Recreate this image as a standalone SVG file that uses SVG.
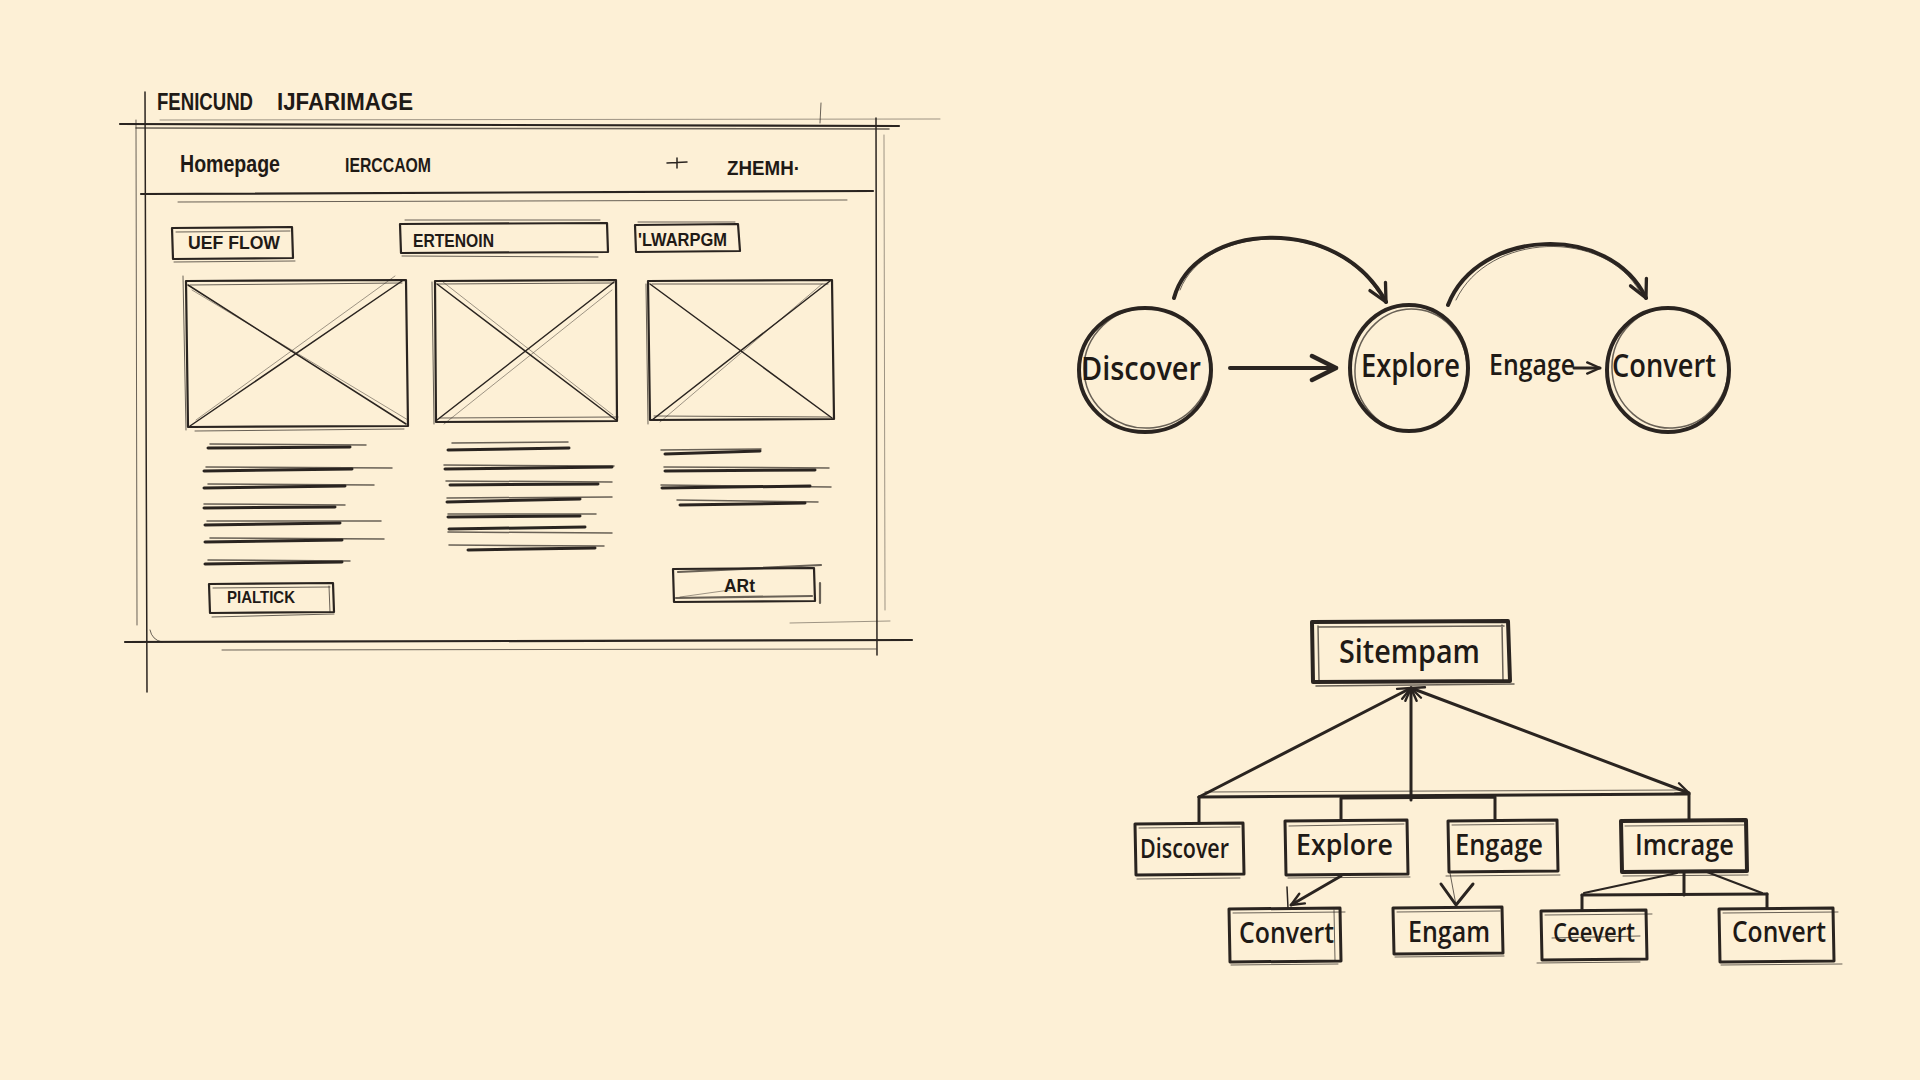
<svg xmlns="http://www.w3.org/2000/svg" width="1920" height="1080" viewBox="0 0 1920 1080">
<defs>
<style>
.ink{fill:none;stroke:#2a2420;stroke-linecap:round;stroke-linejoin:round}
.w1{stroke-width:1}
.w15{stroke-width:1.5}
.w2{stroke-width:2.2}
.w3{stroke-width:3}
.w4{stroke-width:4}
.faint{opacity:.45}
.mid{opacity:.7}
.txt{fill:#1f1a16;font-family:"Liberation Sans","DejaVu Sans",sans-serif;font-weight:bold}
.hand{fill:#1f1a16;font-family:"Open Sans","Liberation Sans",sans-serif;font-weight:600}
</style>
<marker id="arrBig" viewBox="0 0 20 20" refX="18" refY="10" markerWidth="30" markerHeight="30" markerUnits="userSpaceOnUse" orient="auto">
<path d="M2,2 L18,10 L2,18" fill="none" stroke="#2a2420" stroke-width="3" stroke-linecap="round" stroke-linejoin="round"/>
</marker>
<marker id="arrMid" viewBox="0 0 20 20" refX="18" refY="10" markerWidth="22" markerHeight="22" markerUnits="userSpaceOnUse" orient="auto-start-reverse">
<path d="M2,2 L18,10 L2,18" fill="none" stroke="#2a2420" stroke-width="3" stroke-linecap="round" stroke-linejoin="round"/>
</marker>
<marker id="arrSm" viewBox="0 0 20 20" refX="18" refY="10" markerWidth="16" markerHeight="16" markerUnits="userSpaceOnUse" orient="auto-start-reverse">
<path d="M2,3 L18,10 L2,17" fill="none" stroke="#2a2420" stroke-width="3" stroke-linecap="round" stroke-linejoin="round"/>
</marker>
</defs>
<rect width="1920" height="1080" fill="#fdf0d6"/>

<!-- Wireframe sketch -->
<g id="wireframe">
<text class="txt" x="157" y="110" font-size="24" textLength="96" lengthAdjust="spacingAndGlyphs">FENICUND</text>
<text class="txt" x="277" y="110" font-size="24" textLength="136" lengthAdjust="spacingAndGlyphs">IJFARIMAGE</text>
<!-- frame -->
<path class="ink w2" d="M120,124 L899,126"/>
<path class="ink w15 mid" d="M136,128 L889,129"/>
<path class="ink w1 faint" d="M160,120 L940,119"/>
<path class="ink w15" d="M145,92 L147,692"/>
<path class="ink w1 mid" d="M136,120 L137,625"/>
<path class="ink w15" d="M876,118 L877,655"/>
<path class="ink w1 faint" d="M884,135 L885,610"/>
<path class="ink w1 mid" d="M821,103 L820,123"/>
<path class="ink w2" d="M141,194 L873,191"/>
<path class="ink w1 mid" d="M178,202 L847,200"/>
<path class="ink w2" d="M125,642 L912,640"/>
<path class="ink w1 mid" d="M222,650 L876,649"/>
<path class="ink w1 faint" d="M790,623 L890,621"/>
<path class="ink w1 mid" d="M150,630 Q152,640 162,642"/>
<!-- nav -->
<text class="txt" x="180" y="172" font-size="24" textLength="100" lengthAdjust="spacingAndGlyphs">Homepage</text>
<text class="txt" x="345" y="172" font-size="20" textLength="86" lengthAdjust="spacingAndGlyphs">IERCCAOM</text>
<path class="ink w15" d="M667,163 L687,162 M677,158 L677,168"/>
<text class="txt" x="727" y="175" font-size="21" textLength="73" lengthAdjust="spacingAndGlyphs">ZHEMH·</text>
<!-- labels -->
<g id="label-uef">
<path class="ink w2" d="M172,228 L292,227 L293,258 L173,259 Z"/>
<path class="ink w1 mid" d="M176,232 L290,231 M174,262 L295,261"/>
<text class="txt" x="188" y="249" font-size="19" textLength="92" lengthAdjust="spacingAndGlyphs">UEF FLOW</text>
</g>
<g id="label-ertenoin">
<path class="ink w2" d="M400,224 L607,223 L608,252 L401,253 Z"/>
<path class="ink w1 mid" d="M405,220 L600,220 M402,256 L598,257"/>
<text class="txt" x="413" y="247" font-size="18" textLength="81" lengthAdjust="spacingAndGlyphs">ERTENOIN</text>
</g>
<g id="label-lwarpgm">
<path class="ink w2" d="M635,225 L738,224 L740,251 L636,252 Z"/>
<path class="ink w1 mid" d="M638,222 L735,222"/>
<text class="txt" x="638" y="246" font-size="18" textLength="89" lengthAdjust="spacingAndGlyphs">'LWARPGM</text>
</g>
<!-- image placeholders -->
<g id="img1">
<path class="ink w2" d="M186,281 L406,280 L408,426 L188,427 Z"/>
<path class="ink w1 mid" d="M190,285 L402,283 M183,276 L186,430 M195,431 L404,429"/>
<path class="ink w15" d="M188,285 L406,424 M190,426 L402,281"/>
<path class="ink w1 faint" d="M196,420 L395,276 M192,290 L408,420"/>
</g>
<g id="img2">
<path class="ink w2" d="M435,281 L616,280 L617,421 L436,422 Z"/>
<path class="ink w1 mid" d="M438,284 L614,283 M432,282 L434,424 M440,418 L618,417"/>
<path class="ink w15" d="M437,284 L616,420 M437,420 L614,282"/>
<path class="ink w1 faint" d="M443,282 L613,415 M444,424 L612,290"/>
</g>
<g id="img3">
<path class="ink w2" d="M648,281 L832,280 L834,419 L650,420 Z"/>
<path class="ink w1 mid" d="M652,284 L828,284 M646,284 L648,424 M654,416 L830,417"/>
<path class="ink w15" d="M650,284 L832,418 M652,420 L830,281"/>
<path class="ink w1 faint" d="M660,422 L822,284"/>
</g>
<!-- text lines -->
<g id="textlines">
<path class="ink w3" d="M208,448 L350,447 M204,471 L352,469 M204,488 L345,486 M204,508 L335,507 M205,525 L340,523 M205,542 L342,540 M205,564 L342,562"/>
<path class="ink w15 mid" d="M210,444 L366,445 M206,467 L392,468 M208,484 L374,485 M204,504 L345,505 M207,521 L381,521 M210,538 L384,539 M208,560 L350,561"/>
<path class="ink w3" d="M448,450 L569,448 M445,469 L612,467 M450,485 L598,484 M447,502 L580,499 M448,517 L580,516 M449,529 L585,527 M468,550 L595,548"/>
<path class="ink w15 mid" d="M452,443 L568,442 M444,465 L614,466 M446,481 L612,482 M447,498 L612,497 M448,514 L596,514 M448,532 L612,533 M449,545 L604,546"/>
<path class="ink w3" d="M665,454 L760,451 M665,471 L815,470 M662,488 L810,486 M680,505 L805,503"/>
<path class="ink w15 mid" d="M661,450 L761,449 M664,467 L829,468 M661,485 L831,487 M677,500 L818,502"/>
</g>
<!-- buttons -->
<g id="btn-pialtick">
<path class="ink w2" d="M209,584 L333,583 L334,612 L210,613 Z"/>
<path class="ink w1 mid" d="M213,588 L330,587 M212,617 L334,614 M329,586 L330,612"/>
<text class="txt" x="227" y="603" font-size="17" textLength="68" lengthAdjust="spacingAndGlyphs" font-weight="normal">PIALTICK</text>
</g>
<g id="btn-art">
<path class="ink w2" d="M673,569 L814,568 L815,601 L674,602 Z"/>
<path class="ink w2 mid" d="M678,572 L821,565 M676,598 L812,596 M820,583 L820,603"/>
<path class="ink w1 faint" d="M680,597 L730,590"/>
<text class="txt" x="724" y="592" font-size="19" textLength="31" lengthAdjust="spacingAndGlyphs" font-weight="normal">ARt</text>
</g>
</g>

<!-- Flow diagram -->
<g id="flow-connectors">
<path class="ink w4" d="M1230,368 L1336,368" marker-end="url(#arrBig)"/>
<path class="ink w3" d="M1574,368 L1600,368" marker-end="url(#arrSm)"/>
<path class="ink w4" d="M1174,298 C1195,222 1338,212 1386,302" marker-end="url(#arrMid)"/>
<path class="ink w1 mid" d="M1180,290 C1205,225 1330,218 1378,292"/>
<path class="ink w4" d="M1448,305 C1478,228 1610,222 1646,298" marker-end="url(#arrMid)"/>
<path class="ink w1 mid" d="M1456,300 C1488,232 1605,228 1640,292"/>
</g>
<g id="flow-discover">
<ellipse class="ink w4" cx="1145" cy="370" rx="66" ry="62"/>
<ellipse class="ink w15 mid" cx="1147" cy="368" rx="63" ry="60" transform="rotate(-6 1147 368)"/>
<text class="hand" x="1081" y="380" font-size="32" textLength="120" lengthAdjust="spacingAndGlyphs">Discover</text>
</g>
<g id="flow-explore">
<ellipse class="ink w4" cx="1409" cy="368" rx="59" ry="63"/>
<ellipse class="ink w15 mid" cx="1411" cy="370" rx="56" ry="61" transform="rotate(5 1411 370)"/>
<text class="hand" x="1361" y="377" font-size="32" textLength="99" lengthAdjust="spacingAndGlyphs">Explore</text>
</g>
<g id="flow-engage">
<text class="hand" x="1489" y="375" font-size="29" textLength="86" lengthAdjust="spacingAndGlyphs">Engage</text>
</g>
<g id="flow-convert">
<ellipse class="ink w4" cx="1668" cy="370" rx="61" ry="62"/>
<ellipse class="ink w15 mid" cx="1670" cy="368" rx="58" ry="60" transform="rotate(-5 1670 368)"/>
<text class="hand" x="1612" y="377" font-size="32" textLength="104" lengthAdjust="spacingAndGlyphs">Convert</text>
</g>

<!-- Sitemap -->
<g id="sitemap-connectors">
<path class="ink w3" d="M1199,797 L1411,688" marker-end="url(#arrSm)"/>
<path class="ink w3" d="M1411,800 L1411,688" marker-end="url(#arrSm)"/>
<path class="ink w3" d="M1411,688 L1689,793" marker-start="url(#arrSm)" marker-end="url(#arrSm)"/>
<path class="ink w3" d="M1199,797 L1689,794"/>
<path class="ink w1 mid" d="M1205,792 L1680,790"/>
<path class="ink w3" d="M1199,797 L1199,823"/>
<path class="ink w3" d="M1341,820 L1341,798 L1495,797 L1495,820"/>
<path class="ink w3" d="M1689,794 L1689,820"/>
<path class="ink w3" d="M1341,876 L1291,905" marker-end="url(#arrSm)"/>
<path class="ink w15" d="M1287,887 L1288,908"/>
<path class="ink w1 mid" d="M1450,873 L1456,905"/>
<path class="ink w3" d="M1441,884 L1456,905 L1473,884"/>
<path class="ink w3" d="M1684,872 L1684,895"/>
<path class="ink w3" d="M1582,895 L1767,894"/>
<path class="ink w3" d="M1582,895 L1582,910"/>
<path class="ink w3" d="M1767,894 L1767,908"/>
<path class="ink w2" d="M1677,873 L1584,893"/>
<path class="ink w2" d="M1707,872 L1762,893"/>
</g>
<g id="sm-root">
<path class="ink w4" d="M1312,622 L1508,621 L1510,681 L1313,682 Z"/>
<path class="ink w15 mid" d="M1318,627 L1504,626 M1316,686 L1514,684 M1502,625 L1503,680 M1318,626 L1319,680"/>
<text class="hand" x="1339" y="663" font-size="33" textLength="141" lengthAdjust="spacingAndGlyphs">Sitempam</text>
</g>
<g id="sm-discover">
<path class="ink w3" d="M1135,824 L1243,823 L1244,874 L1136,875 Z"/>
<path class="ink w1 mid" d="M1139,828 L1240,827 M1137,879 L1240,878"/>
<text class="hand" x="1140" y="858" font-size="27" textLength="89" lengthAdjust="spacingAndGlyphs">Discover</text>
</g>
<g id="sm-explore">
<path class="ink w3" d="M1285,821 L1407,820 L1408,874 L1286,875 Z"/>
<path class="ink w1 mid" d="M1289,826 L1404,824 M1288,878 L1410,877"/>
<text class="hand" x="1296" y="855" font-size="28" textLength="97" lengthAdjust="spacingAndGlyphs">Explore</text>
</g>
<g id="sm-engage">
<path class="ink w3" d="M1448,821 L1557,820 L1558,871 L1449,872 Z"/>
<path class="ink w1 mid" d="M1452,825 L1554,824 M1446,876 L1560,875"/>
<text class="hand" x="1455" y="855" font-size="28" textLength="88" lengthAdjust="spacingAndGlyphs">Engage</text>
</g>
<g id="sm-imcrage">
<path class="ink w4" d="M1621,821 L1746,820 L1747,871 L1622,872 Z"/>
<path class="ink w1 mid" d="M1625,826 L1744,825 M1623,876 L1748,875"/>
<text class="hand" x="1635" y="855" font-size="28" textLength="99" lengthAdjust="spacingAndGlyphs">Imcrage</text>
</g>
<g id="sm-convert1">
<path class="ink w3" d="M1229,909 L1340,908 L1341,961 L1230,962 Z"/>
<path class="ink w1 mid" d="M1233,913 L1345,912 M1231,965 L1338,964 M1334,910 L1335,960"/>
<text class="hand" x="1239" y="943" font-size="28" textLength="95" lengthAdjust="spacingAndGlyphs">Convert</text>
</g>
<g id="sm-engam">
<path class="ink w3" d="M1393,908 L1502,907 L1503,953 L1394,954 Z"/>
<path class="ink w1 mid" d="M1397,912 L1500,911 M1395,957 L1504,956"/>
<text class="hand" x="1408" y="942" font-size="28" textLength="82" lengthAdjust="spacingAndGlyphs">Engam</text>
</g>
<g id="sm-ceevert">
<path class="ink w3" d="M1541,911 L1646,910 L1647,959 L1542,960 Z"/>
<path class="ink w1 mid" d="M1545,915 L1652,914 M1537,963 L1640,962 M1552,938 L1640,936"/>
<text class="hand" x="1553" y="942" font-size="27" textLength="82" lengthAdjust="spacingAndGlyphs">Ceevert</text>
</g>
<g id="sm-convert2">
<path class="ink w3" d="M1719,909 L1833,908 L1834,961 L1720,962 Z"/>
<path class="ink w1 mid" d="M1723,913 L1838,912 M1721,965 L1842,964"/>
<text class="hand" x="1732" y="942" font-size="28" textLength="94" lengthAdjust="spacingAndGlyphs">Convert</text>
</g>
</svg>
